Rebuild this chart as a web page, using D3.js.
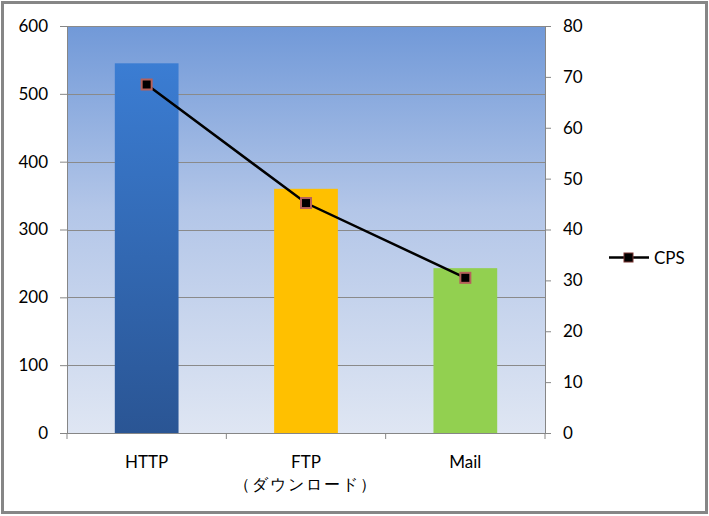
<!DOCTYPE html>
<html>
<head>
<meta charset="utf-8">
<script src="https://cdn.jsdelivr.net/npm/d3@7"></script>
<style>
html,body{margin:0;padding:0;background:#fff;}
svg{display:block;}
text{font-family:Lato,"Noto Sans",sans-serif;fill:#000;}
</style>
</head>
<body>
<svg id="chart" width="709" height="516"></svg>
<script>
const categories = ["HTTP", "FTP", "Mail"];
const categorySub = ["", "（ダウンロード）", ""];
const barValues = [545, 360, 243];
const cpsValues = [68.5, 45.2, 30.5];
const leftTicks = [0, 100, 200, 300, 400, 500, 600];
const rightTicks = [0, 10, 20, 30, 40, 50, 60, 70, 80];
const seriesName = "CPS";

const svg = d3.select("#chart");
const W = 709, H = 516;
const plot = {left: 67, right: 545, top: 26, bottom: 433};

const defs = svg.append("defs");
const bg = defs.append("linearGradient").attr("id","bg").attr("x1",0).attr("y1",0).attr("x2",0).attr("y2",1);
bg.append("stop").attr("offset","0%").attr("stop-color","#7199d8");
bg.append("stop").attr("offset","45%").attr("stop-color","#b3c6e8");
bg.append("stop").attr("offset","100%").attr("stop-color","#dfe6f3");
const gb = defs.append("linearGradient").attr("id","gblue").attr("x1",0).attr("y1",0).attr("x2",0).attr("y2",1);
gb.append("stop").attr("offset","0%").attr("stop-color","#3b7dd3");
gb.append("stop").attr("offset","100%").attr("stop-color","#2a5594");
const barFills = ["url(#gblue)", "#ffc000", "#92d050"];

// outer frame
svg.append("rect").attr("x",2.5).attr("y",2.5).attr("width",W-5).attr("height",H-6)
  .attr("fill","#fff").attr("stroke","#868686").attr("stroke-width",3);

// plot background
svg.append("rect").attr("x",plot.left).attr("y",plot.top)
  .attr("width",plot.right-plot.left).attr("height",plot.bottom-plot.top).attr("fill","url(#bg)");

const x = d3.scaleBand().domain(categories).range([plot.left, plot.right]).paddingInner(0.6).paddingOuter(0.3);
const xb = d3.scaleBand().domain(categories).range([plot.left, plot.right]);
const yL = d3.scaleLinear().domain([0,600]).range([plot.bottom, plot.top]);
const yR = d3.scaleLinear().domain([0,80]).range([plot.bottom, plot.top]);

// gridlines
svg.append("g").selectAll("line").data(leftTicks.filter(d=>d>0)).join("line")
  .attr("x1",plot.left).attr("x2",plot.right)
  .attr("y1",d=>Math.round(yL(d))+0.5).attr("y2",d=>Math.round(yL(d))+0.5)
  .attr("stroke","#8a8a8a").attr("stroke-width",1);

// bars
svg.append("g").selectAll("rect").data(categories).join("rect")
  .attr("x",d=>x(d)).attr("width",x.bandwidth())
  .attr("y",(d,i)=>yL(barValues[i])).attr("height",(d,i)=>plot.bottom-yL(barValues[i]))
  .attr("fill",(d,i)=>barFills[i]);

// axes
const axisColor = "#868686";
const gL = svg.append("g").attr("transform",`translate(${plot.left},0)`)
  .call(d3.axisLeft(yL).tickValues(leftTicks).tickSize(7).tickPadding(12));
const gR = svg.append("g").attr("transform",`translate(${plot.right},0)`)
  .call(d3.axisRight(yR).tickValues(rightTicks).tickSize(6).tickPadding(12));
const gX = svg.append("g").attr("transform",`translate(0,${plot.bottom})`)
  .call(d3.axisBottom(xb).tickSize(0).tickFormat(""));
[gL,gR,gX].forEach(g=>{
  g.select(".domain").attr("stroke",axisColor);
  g.selectAll(".tick line").attr("stroke",axisColor);
  g.selectAll("text").attr("font-size",17).attr("font-family","Lato,sans-serif").attr("fill","#000");
});
gX.select(".domain").remove();
gX.append("line").attr("x1",plot.left).attr("x2",plot.right).attr("y1",0.5).attr("y2",0.5).attr("stroke",axisColor);
// category boundary ticks
const bounds = categories.map(c=>xb(c)).concat([plot.right]);
gX.selectAll("line.bt").data(bounds).join("line").attr("class","bt")
  .attr("x1",d=>d).attr("x2",d=>d).attr("y1",0).attr("y2",6).attr("stroke",axisColor);

// category labels
const lab = svg.append("g");
lab.selectAll("text.c").data(categories).join("text").attr("class","c")
  .attr("x",d=>xb(d)+xb.bandwidth()/2).attr("y",468).attr("text-anchor","middle")
  .attr("font-size",17).text(d=>d);
lab.selectAll("text.s").data(categorySub).join("text").attr("class","s")
  .attr("x",(d,i)=>xb(categories[i])+xb.bandwidth()/2).attr("y",490).attr("text-anchor","middle")
  .attr("font-size",16).attr("letter-spacing",2).attr("font-family","'Noto Sans CJK JP',sans-serif").text(d=>d);

// line
const line = d3.line().x((d,i)=>xb(categories[i])+xb.bandwidth()/2).y(d=>yR(d));
svg.append("path").datum(cpsValues).attr("d",line).attr("fill","none")
  .attr("stroke","#000").attr("stroke-width",2.5);
svg.append("g").selectAll("rect").data(cpsValues).join("rect")
  .attr("x",(d,i)=>xb(categories[i])+xb.bandwidth()/2-5).attr("y",d=>yR(d)-5)
  .attr("width",10).attr("height",10).attr("fill","#000")
  .attr("stroke","#b5605a").attr("stroke-width",2);

// legend
const lg = svg.append("g");
lg.append("line").attr("x1",609).attr("x2",649).attr("y1",257.5).attr("y2",257.5).attr("stroke","#000").attr("stroke-width",2.5);
lg.append("rect").attr("x",624).attr("y",253).attr("width",9).attr("height",9).attr("fill","#000").attr("stroke","#7a3530").attr("stroke-width",1);
lg.append("text").attr("x",654).attr("y",264).attr("font-size",17).text(seriesName);
</script>
</body>
</html>
